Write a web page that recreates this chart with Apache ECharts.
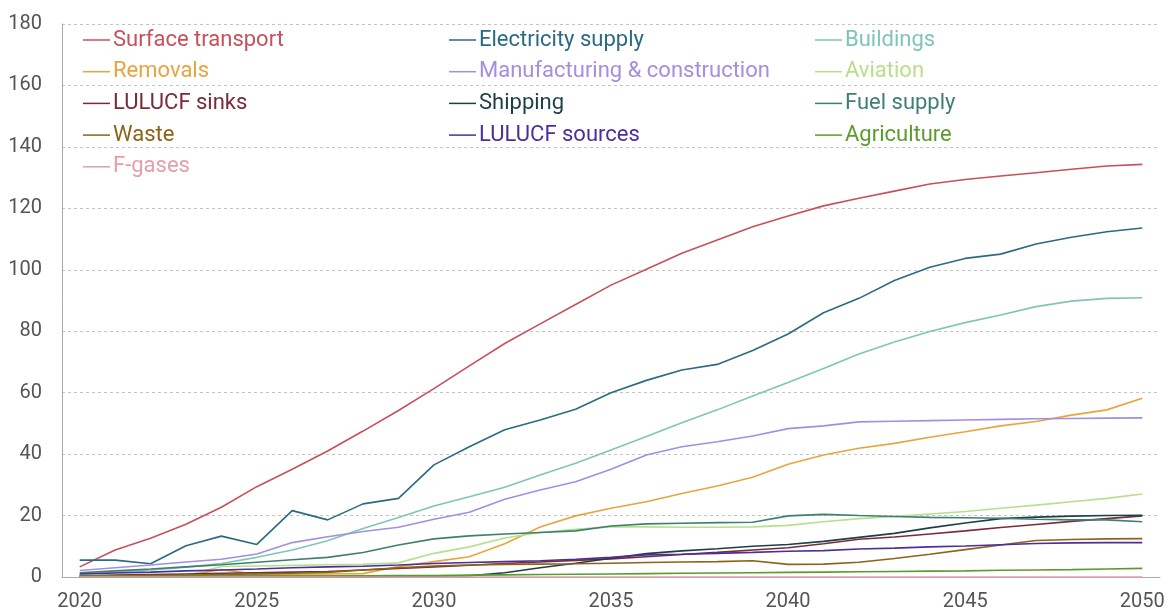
<!DOCTYPE html>
<html>
<head>
<meta charset="utf-8">
<script src="https://cdn.jsdelivr.net/npm/echarts@6/dist/echarts.min.js"></script>
<style>
  html, body { margin: 0; padding: 0; background: #fff; }
  #chart { width: 1172px; height: 615px; }
</style>
</head>
<body>
<div id="chart"></div>
<script>
// years on the x axis
var years = [];
for (var y = 2020; y <= 2050; y++) years.push(String(y));

var yTicks = [0, 20, 40, 60, 80, 100, 120, 140, 160, 180];

var surfaceTransport = [3.3, 8.8, 12.6, 17.2, 22.7, 29.4, 35.1, 41, 47.5, 54.2, 61.3, 68.7, 76, 82.4, 88.7, 95, 100.2, 105.4, 109.7, 114, 117.5, 120.8, 123.3, 125.6, 127.9, 129.4, 130.5, 131.6, 132.7, 133.8, 134.3];
var electricitySupply = [5.5, 5.5, 4.3, 10.2, 13.3, 10.6, 21.6, 18.6, 23.8, 25.6, 36.5, 42.4, 47.9, 51.1, 54.6, 60, 64, 67.4, 69.2, 73.7, 79.1, 86, 90.7, 96.5, 100.8, 103.7, 105.1, 108.4, 110.6, 112.4, 113.6];
var buildings = [1.0, 1.6, 2.3, 3.2, 4.4, 6.4, 8.8, 11.8, 15.8, 19.4, 23.1, 26.1, 29.2, 33.2, 37, 41.3, 45.7, 50.2, 54.4, 58.9, 63.3, 67.9, 72.6, 76.5, 79.9, 82.8, 85.3, 88, 89.8, 90.7, 90.9];
var removals = [0.3, 0.3, 0.4, 0.6, 2.4, 0.9, 0.9, 1.0, 1.1, 3.4, 5, 6.6, 10.8, 16.3, 19.9, 22.4, 24.5, 27.2, 29.6, 32.5, 36.7, 39.7, 41.9, 43.5, 45.5, 47.3, 49.2, 50.6, 52.7, 54.4, 58.2];
var manufacturing = [2.1, 3.0, 3.9, 4.9, 5.8, 7.5, 11.2, 13.1, 14.8, 16.2, 18.8, 21.1, 25.3, 28.3, 31, 35.1, 39.7, 42.4, 44, 45.9, 48.3, 49.2, 50.5, 50.7, 50.9, 51.1, 51.3, 51.5, 51.6, 51.7, 51.8];
var aviation = [0.2, 0.2, 0.2, 0.5, 3.4, 3.6, 3.8, 4.0, 4.1, 4.6, 7.7, 9.8, 12.7, 14.5, 15.5, 16.3, 16.3, 16.2, 16.2, 16.3, 16.8, 18.0, 19.0, 19.7, 20.5, 21.3, 22.4, 23.4, 24.5, 25.6, 27];
var lulucfSinks = [0.4, 0.6, 0.8, 1.0, 1.2, 1.4, 1.6, 1.8, 2.3, 2.8, 3.3, 3.8, 4.4, 4.9, 5.4, 5.9, 6.6, 7.3, 8.0, 8.8, 9.5, 10.8, 12.3, 13.0, 14.0, 15.0, 16.1, 17.1, 18.1, 19.0, 19.9];
var shipping = [0.2, 0.2, 0.2, 0.2, 0.2, 0.2, 0.2, 0.2, 0.2, 0.3, 0.3, 0.4, 1.4, 3.0, 4.5, 6.1, 7.6, 8.5, 9.2, 10.0, 10.6, 11.6, 12.9, 14.2, 16.0, 17.6, 19.0, 19.5, 19.8, 20.0, 20.1];
var fuelSupply = [1.4, 2.0, 2.6, 3.3, 4.0, 4.8, 5.6, 6.4, 8.0, 10.4, 12.4, 13.4, 14.0, 14.5, 15.0, 16.6, 17.3, 17.5, 17.7, 17.8, 19.9, 20.4, 20.0, 19.7, 19.4, 19.3, 19.1, 18.8, 18.6, 18.6, 18.0];
var waste = [0.3, 0.4, 0.5, 0.6, 0.8, 1.0, 1.2, 1.5, 2.3, 3.0, 3.6, 3.9, 4.1, 4.2, 4.3, 4.5, 4.7, 4.9, 5.0, 5.3, 4.1, 4.2, 4.8, 6.0, 7.4, 8.9, 10.4, 11.9, 12.2, 12.4, 12.5];
var lulucfSources = [1.0, 1.3, 1.6, 2.0, 2.3, 2.6, 3.0, 3.3, 3.5, 3.9, 4.4, 4.7, 5.0, 5.3, 5.8, 6.4, 7.2, 7.4, 7.7, 8.0, 8.4, 8.6, 9.1, 9.4, 9.8, 10.1, 10.5, 10.9, 11.1, 11.2, 11.2];
var agriculture = [0.2, 0.2, 0.2, 0.3, 0.3, 0.3, 0.3, 0.3, 0.4, 0.5, 0.5, 0.6, 0.7, 0.8, 0.9, 1.0, 1.1, 1.2, 1.3, 1.4, 1.5, 1.6, 1.7, 1.8, 1.9, 2.0, 2.2, 2.3, 2.4, 2.6, 2.8];
var fGases = [0, 0, 0, 0, 0, 0, 0, 0, 0, 0, 0, 0, 0, 0, 0, 0, 0, 0, 0, 0, 0, 0, 0, 0, 0, 0, 0, 0, 0, 0, 0];

var seriesList = [
  { name: 'Surface transport', color: '#c8505a', data: surfaceTransport },
  { name: 'Electricity supply', color: '#2b6b81', data: electricitySupply },
  { name: 'Buildings', color: '#7fc6b4', data: buildings },
  { name: 'Removals', color: '#e9a43e', data: removals },
  { name: 'Manufacturing & construction', color: '#a38ee0', data: manufacturing },
  { name: 'Aviation', color: '#b6e08c', data: aviation },
  { name: 'LULUCF sinks', color: '#7b2b36', data: lulucfSinks },
  { name: 'Shipping', color: '#1e3e48', data: shipping },
  { name: 'Fuel supply', color: '#3e7f70', data: fuelSupply },
  { name: 'Waste', color: '#8b6418', data: waste },
  { name: 'LULUCF sources', color: '#4c2e9c', data: lulucfSources },
  { name: 'Agriculture', color: '#5b9b2c', data: agriculture },
  { name: 'F-gases', color: '#e3a0a6', data: fGases }
];

var fontName = 'Roboto, "Noto Sans", sans-serif';

// three legend columns, filled row by row like the original
function legendCol(idx, left) {
  var items = [];
  for (var i = idx; i < seriesList.length; i += 3) {
    items.push({ name: seriesList[i].name, textStyle: { color: seriesList[i].color } });
  }
  return {
    orient: 'vertical',
    left: left,
    top: 29,
    icon: 'rect',
    itemWidth: 27,
    itemHeight: 1.5,
    itemGap: 9.7,
    padding: 0,
    selectedMode: false,
    textStyle: { fontFamily: fontName, fontSize: 22, lineHeight: 20, padding: [2, 0, 0, -2] },
    data: items
  };
}

var mychart = echarts.init(document.getElementById('chart'));

var option = {
  animation: false,
  backgroundColor: '#fff',
  grid: { left: 62, right: 12, top: 24, bottom: 38 },
  legend: [legendCol(0, 83), legendCol(1, 449), legendCol(2, 815)],
  xAxis: {
    type: 'category',
    data: years,
    boundaryGap: true,
    axisLine: { lineStyle: { color: '#aaa', width: 1 } },
    axisTick: { show: false },
    axisLabel: { interval: 4, color: '#555', fontSize: 20, fontFamily: fontName, margin: 15 }
  },
  yAxis: {
    type: 'value',
    min: yTicks[0],
    max: yTicks[yTicks.length - 1],
    interval: 20,
    axisLine: { show: true, lineStyle: { color: '#aaa', width: 1 } },
    axisTick: { show: false },
    axisLabel: { color: '#555', fontSize: 20, fontFamily: fontName, margin: 20 },
    splitLine: { lineStyle: { color: '#c4c4c4', type: [3, 3], width: 1 } }
  },
  series: seriesList.map(function (s) {
    return {
      name: s.name,
      type: 'line',
      data: s.data,
      symbol: 'none',
      color: s.color,
      lineStyle: { color: s.color, width: 1.6 }
    };
  })
};

mychart.setOption(option);
</script>
</body>
</html>
